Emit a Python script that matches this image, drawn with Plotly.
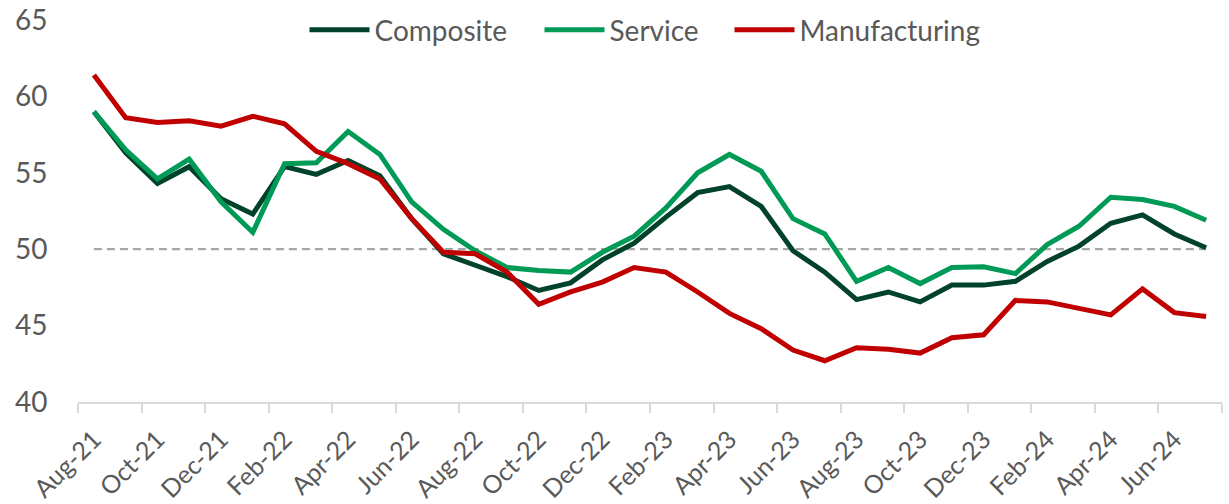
import plotly.graph_objects as go

months = ["Aug-21","Sep-21","Oct-21","Nov-21","Dec-21","Jan-22","Feb-22","Mar-22","Apr-22","May-22",
          "Jun-22","Jul-22","Aug-22","Sep-22","Oct-22","Nov-22","Dec-22","Jan-23","Feb-23","Mar-23",
          "Apr-23","May-23","Jun-23","Jul-23","Aug-23","Sep-23","Oct-23","Nov-23","Dec-23","Jan-24",
          "Feb-24","Mar-24","Apr-24","May-24","Jun-24","Jul-24"]

composite = [59.0,56.3,54.3,55.4,53.3,52.3,55.4,54.9,55.8,54.8,
             52.0,49.7,48.95,48.2,47.3,47.8,49.3,50.4,52.1,53.7,
             54.1,52.8,49.9,48.5,46.7,47.2,46.55,47.65,47.65,47.9,
             49.2,50.2,51.7,52.25,51.0,50.1]
service = [59.0,56.5,54.6,55.9,53.1,51.1,55.6,55.65,57.7,56.2,
           53.1,51.3,49.9,48.8,48.6,48.5,49.8,50.85,52.7,55.0,
           56.2,55.1,52.0,51.0,47.9,48.8,47.75,48.8,48.85,48.4,
           50.3,51.5,53.4,53.25,52.8,51.9]
manufacturing = [61.4,58.6,58.3,58.4,58.05,58.7,58.2,56.4,55.6,54.6,
                 52.0,49.8,49.7,48.5,46.4,47.2,47.85,48.8,48.5,47.2,
                 45.8,44.8,43.4,42.7,43.55,43.45,43.2,44.2,44.4,46.65,
                 46.55,46.1,45.7,47.4,45.85,45.6]
threshold = [50] * len(months)

x = list(range(len(months)))
label_idx = x[::2]
label_txt = [months[i] for i in label_idx]

fig = go.Figure()
fig.add_trace(go.Scatter(x=x, y=threshold, mode="lines", showlegend=False, hoverinfo="skip",
                         line=dict(color="#a6a6a6", width=2.2, dash="8px,5px")))
fig.add_trace(go.Scatter(x=x, y=composite, mode="lines", name="Composite", legend="legend",
                         line=dict(color="#00432A", width=5)))
fig.add_trace(go.Scatter(x=x, y=service, mode="lines", name="Service", legend="legend2",
                         line=dict(color="#009A57", width=5)))
fig.add_trace(go.Scatter(x=x, y=manufacturing, mode="lines", name="Manufacturing", legend="legend3",
                         line=dict(color="#C00000", width=5)))

font_family = "Lato, 'Open Sans', sans-serif"
W, H = 1229, 504
ML, MR, MT, MB = 78, 7, 20, 102
PW = W - ML - MR

def leg(px_left):
    return dict(orientation="h", x=(px_left - ML) / PW, xanchor="left",
                y=1.0 - (30 - MT) / (H - MT - MB), yanchor="middle",
                font=dict(size=28, color="#595959"), itemwidth=60,
                bgcolor="rgba(0,0,0,0)", borderwidth=0)

fig.update_layout(
    width=W, height=H,
    margin=dict(l=ML, r=MR, t=MT, b=MB, autoexpand=False),
    plot_bgcolor="white", paper_bgcolor="white",
    font=dict(family=font_family, color="#595959"),
    showlegend=True,
    legend=leg(304.5), legend2=leg(539.5), legend3=leg(729.5),
    xaxis=dict(range=[-0.5, 35.5], tickmode="array", tickvals=label_idx, ticktext=label_txt,
               tickangle=-45, tickfont=dict(size=25, color="#595959"),
               showgrid=False, zeroline=False, showline=True, linecolor="#d9d9d9", linewidth=2,
               ticks="outside", ticklen=11, tickcolor="rgba(0,0,0,0)", automargin=False,
               ticklabeloverflow="allow",
               minor=dict(tickmode="linear", tick0=-0.5, dtick=2, ticks="outside", ticklen=9,
                          tickwidth=2, tickcolor="#d9d9d9", showgrid=False)),
    yaxis=dict(range=[40, 65], tickvals=[40, 45, 50, 55, 60, 65],
               tickfont=dict(size=28, color="#595959"),
               showgrid=False, zeroline=False, showline=False, automargin=False,
               ticklabeloverflow="allow",
               ticks="outside", ticklen=24, tickcolor="rgba(0,0,0,0)"),
)

fig.write_html("out.html", config={"displayModeBar": False},
               post_script="document.body.style.margin='0';document.body.style.padding='0';")
